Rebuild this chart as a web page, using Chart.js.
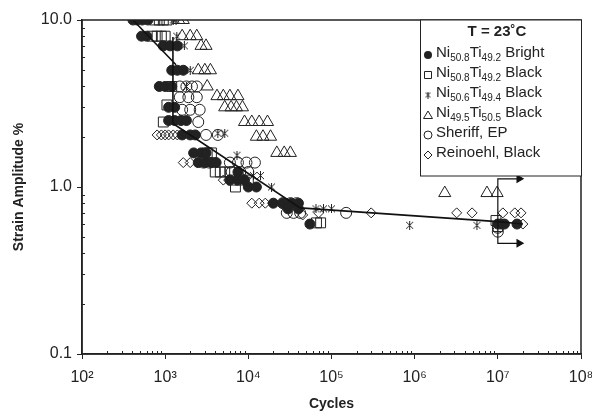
<!DOCTYPE html>
<html>
<head>
<meta charset="utf-8">
<script src="https://cdn.jsdelivr.net/npm/chart.js@4.4.1/dist/chart.umd.min.js"></script>
<style>
  html, body { margin: 0; padding: 0; background: #fff; }
</style>
</head>
<body>
<canvas id="grafico" width="592" height="417"></canvas>
<script>
// ticks
const xTicks = [1e2, 1e3, 1e4, 1e5, 1e6, 1e7, 1e8];
const yTicks = [0.1, 1, 10];
const supers = { 2: "\u00b2", 3: "\u00b3", 4: "\u2074", 5: "\u2075", 6: "\u2076", 7: "\u2077", 8: "\u2078" };

//Ni50.8Ti49.2 Bright
const brightX = [410, 460, 530, 620, 520, 600, 950, 1150, 1400, 1200, 1400, 1650, 850, 1000, 1200,
  1100, 1300, 1100, 1300, 1550, 1800, 1600, 2000, 2300, 2200, 2700, 3100, 2500, 3000, 3600, 4100,
  7500, 6000, 7500, 9000, 10000, 12500, 20000, 26000, 33000, 40000, 30000, 40000, 55000,
  10000000, 11000000, 12000000, 17000000];
const brightY = [10, 10, 10, 10, 8, 8, 7, 7, 7, 5, 5, 5, 4, 4, 4,
  3, 3, 2.5, 2.5, 2.5, 2.5, 2.05, 2.05, 2.05, 1.6, 1.6, 1.6, 1.4, 1.4, 1.4, 1.4,
  1.23, 1.1, 1.1, 1.1, 1.0, 1.0, 0.8, 0.8, 0.8, 0.8, 0.74, 0.74, 0.6,
  0.6, 0.6, 0.6, 0.6];

//Ni50.8Ti49.2 Black
const sqX = [750, 850, 950, 1050, 700, 800, 900, 1000, 1200, 1050, 950, 3200, 3600,
  4000, 4600, 5200, 6000, 6500, 8000, 10000, 7000, 66000, 74000, 9500000, 10000000];
const sqY = [10, 10, 10, 10, 8, 8, 8, 8, 4, 3.1, 2.45, 1.6, 1.6,
  1.23, 1.23, 1.23, 1.23, 1.1, 1.1, 1.1, 1.0, 0.61, 0.61, 0.63, 0.58];

//Ni50.6Ti49.4 Black
const starX = [1250, 1350, 1380, 1700, 2000, 1800, 4300, 5200, 7300, 11500, 14000, 19000,
  65000, 80000, 100000, 870000, 5600000];
const starY = [10, 10, 8, 7, 5, 4, 2.1, 2.1, 1.55, 1.17, 1.17, 1.0,
  0.74, 0.74, 0.74, 0.59, 0.59];

//Ni49.5Ti50.5 Black
const triX = [1450, 1650, 1600, 2000, 2400, 2700, 3100, 2500, 3000, 3500, 3200,
  4200, 5000, 6000, 7500, 5200, 6200, 7200, 8500, 9000, 11000, 13500, 17000,
  12500, 15000, 18500, 22000, 27000, 32000, 2300000, 7400000, 9800000];
const triY = [10, 10, 8, 8, 8, 7, 7, 5, 5, 5, 4,
  3.5, 3.5, 3.5, 3.5, 3.0, 3.0, 3.0, 3.0, 2.45, 2.45, 2.45, 2.45,
  2.0, 2.0, 2.0, 1.6, 1.6, 1.6, 0.92, 0.92, 0.92];

//Sheriff, EP
const shX = [1500, 1800, 2100, 2400, 1500, 1900, 2400, 1600, 2000, 2600, 2500, 3100, 4300,
  2900, 3400, 6000, 7500, 9500, 12000, 6300, 8000, 10000, 26000, 32000, 38000,
  29000, 35000, 42000, 150000, 10000000, 10000000];
const shY = [4, 4, 4, 4, 3.45, 3.45, 3.45, 2.9, 2.9, 2.9, 2.45, 2.05, 2.05,
  1.4, 1.4, 1.4, 1.4, 1.4, 1.4, 1.23, 1.23, 1.23, 0.8, 0.8, 0.8,
  0.7, 0.7, 0.7, 0.7, 0.54, 0.57];

//Reinoehl, Black
const reX = [800, 900, 1000, 1100, 1250, 1400, 1650, 2000, 5000, 5800, 11000, 13500, 16000, 19500,
  45000, 70000, 300000, 3200000, 4900000, 11500000, 16000000, 19000000, 20000000];
const reY = [2.05, 2.05, 2.05, 2.05, 2.05, 2.05, 1.4, 1.4, 1.1, 1.1, 0.8, 0.8, 0.8, 0.8,
  0.68, 0.7, 0.7, 0.7, 0.7, 0.7, 0.7, 0.7, 0.6];

//linea de ajuste
const fitX = [410, 1350, null, 1240, 1240, 42000, 10000000, 20000000];
const fitY = [10, 5.4, null, 7.9, 2.4, 0.75, 0.62, 0.6];

//flechas (runout)
const arrowX = [18000000, 10000000, 10000000, 18000000];
const arrowY = [1.12, 1.12, 0.46, 0.46];

const ink = "#222";
const fam = "'Liberation Sans', Arial, Helvetica, sans-serif";
Chart.defaults.font.family = fam;
Chart.defaults.color = ink;

const pts = (xs, ys) => xs.map((x, i) => ({ x: x, y: ys[i] }));

function starImg(n) {
  const c = document.createElement("canvas");
  c.width = n; c.height = n;
  const g = c.getContext("2d");
  g.strokeStyle = ink;
  g.lineWidth = 1;
  g.beginPath();
  g.moveTo(1, 1); g.lineTo(n - 1, n - 1);
  g.moveTo(n - 1, 1); g.lineTo(1, n - 1);
  g.moveTo(n / 2, 0); g.lineTo(n / 2, n);
  g.stroke();
  return c;
}
const star = starImg(9);

const legendRows = [
  ["bright", [["Ni", 0], ["50.8", 1], ["Ti", 0], ["49.2", 1], [" Bright", 0]]],
  ["square", [["Ni", 0], ["50.8", 1], ["Ti", 0], ["49.2", 1], [" Black", 0]]],
  ["star", [["Ni", 0], ["50.6", 1], ["Ti", 0], ["49.4", 1], [" Black", 0]]],
  ["tri", [["Ni", 0], ["49.5", 1], ["Ti", 0], ["50.5", 1], [" Black", 0]]],
  ["circle", [["Sheriff, EP", 0]]],
  ["diamond", [["Reinoehl, Black", 0]]],
];

function legendMarker(ctx, kind, x, y) {
  ctx.save();
  ctx.strokeStyle = ink;
  ctx.fillStyle = ink;
  ctx.lineWidth = 1;
  ctx.beginPath();
  if (kind === "bright") { ctx.arc(x, y, 4, 0, Math.PI * 2); ctx.fill(); }
  if (kind === "square") { ctx.rect(x - 3.5, y - 3.5, 7, 7); ctx.stroke(); }
  if (kind === "star") { ctx.drawImage(starImg(7), x - 3.5, y - 3.5); }
  if (kind === "tri") { ctx.moveTo(x, y - 4); ctx.lineTo(x + 4.5, y + 3.5); ctx.lineTo(x - 4.5, y + 3.5); ctx.closePath(); ctx.stroke(); }
  if (kind === "circle") { ctx.arc(x, y, 4, 0, Math.PI * 2); ctx.stroke(); }
  if (kind === "diamond") { ctx.moveTo(x, y - 4); ctx.lineTo(x + 4, y); ctx.lineTo(x, y + 4); ctx.lineTo(x - 4, y); ctx.closePath(); ctx.stroke(); }
  ctx.restore();
}

const decor = {
  id: "decor",
  afterDraw(chart) {
    const ctx = chart.ctx;
    const a = chart.chartArea;
    const sx = chart.scales.x, sy = chart.scales.y;
    ctx.save();
    // marco
    ctx.strokeStyle = ink;
    ctx.lineWidth = 1.5;
    ctx.strokeRect(a.left, a.top, a.right - a.left, a.bottom - a.top);
    // minor ticks
    ctx.lineWidth = 1;
    ctx.beginPath();
    for (let d = 2; d < 8; d++) {
      for (let m = 2; m < 10; m++) {
        const px = Math.round(sx.getPixelForValue(m * Math.pow(10, d))) + 0.5;
        ctx.moveTo(px, a.bottom); ctx.lineTo(px, a.bottom - 3);
      }
    }
    for (let d = -1; d < 1; d++) {
      for (let m = 2; m < 10; m++) {
        const py = Math.round(sy.getPixelForValue(m * Math.pow(10, d))) + 0.5;
        ctx.moveTo(a.left, py); ctx.lineTo(a.left + 3, py);
      }
    }
    ctx.stroke();
    // leyenda
    const lx = 420, ly = a.top, lw = a.right - 420, lh = 156;
    ctx.fillStyle = "#fff";
    ctx.fillRect(lx, ly, lw, lh);
    ctx.lineWidth = 1;
    ctx.strokeRect(lx + 0.5, ly, lw, lh);
    ctx.fillStyle = ink;
    ctx.textBaseline = "middle";
    ctx.textAlign = "center";
    ctx.font = "bold 15px " + fam;
    ctx.fillText("T = 23\u02daC", 497, ly + 12);
    ctx.textAlign = "left";
    legendRows.forEach((row, i) => {
      const y = ly + 33 + i * 20;
      legendMarker(ctx, row[0], 428, y + 2);
      let x = 436;
      row[1].forEach(p => {
        ctx.font = (p[1] ? "10px " : "15px ") + fam;
        ctx.fillText(p[0], x, p[1] ? y + 5 : y);
        x += ctx.measureText(p[0]).width;
      });
    });
    ctx.restore();
  }
};

const mk = (label, data, style, r, fill) => ({
  label: label,
  data: data,
  pointStyle: style,
  pointRadius: r,
  pointHoverRadius: r,
  borderColor: ink,
  backgroundColor: fill ? ink : "rgba(0,0,0,0)",
  pointBorderWidth: 1,
  showLine: false,
});

new Chart(document.getElementById("grafico"), {
  type: "scatter",
  data: {
    datasets: [
      {
        label: "fit",
        data: pts(fitX, fitY),
        showLine: true,
        spanGaps: false,
        borderColor: "#111",
        borderWidth: 1.6,
        pointRadius: 0,
        order: 0,
      },
      {
        label: "runout",
        data: pts(arrowX, arrowY),
        showLine: true,
        borderColor: "#111",
        backgroundColor: "#111",
        borderWidth: 1.2,
        pointStyle: "triangle",
        rotation: 90,
        pointRadius: [4, 0, 0, 4],
        order: 0,
      },
      mk("Reinoehl, Black", pts(reX, reY), "rectRot", 5, false),
      mk("Sheriff, EP", pts(shX, shY), "circle", 5.5, false),
      mk("Ni49.5Ti50.5 Black", pts(triX, triY), "triangle", 7, false),
      mk("Ni50.6Ti49.4 Black", pts(starX, starY), star, 5, false),
      mk("Ni50.8Ti49.2 Black", pts(sqX, sqY), "rect", 7, false),
      mk("Ni50.8Ti49.2 Bright", pts(brightX, brightY), "circle", 5, true),
    ],
  },
  options: {
    responsive: false,
    animation: false,
    layout: { padding: { top: 20, right: 11, left: 0, bottom: 0 } },
    plugins: {
      legend: { display: false },
      tooltip: { enabled: false },
    },
    scales: {
      x: {
        type: "logarithmic",
        min: 1e2,
        max: 1e8,
        afterBuildTicks: (s) => { s.ticks = xTicks.map(v => ({ value: v })); },
        afterFit: (s) => { s.height = 63; s.paddingLeft = 0; s.paddingRight = 0; },
        ticks: {
          autoSkip: false,
          maxRotation: 0,
          padding: 9,
          color: ink,
          font: { size: 16 },
          callback: (v) => "10" + supers[Math.round(Math.log10(v))],
        },
        grid: { drawOnChartArea: false, tickLength: 5, tickColor: ink },
        border: { color: ink, width: 1.5 },
        title: { display: true, text: "Cycles", color: ink, font: { size: 14, weight: "bold" }, padding: { top: 7 } },
      },
      y: {
        type: "logarithmic",
        min: 0.1,
        max: 10,
        afterBuildTicks: (s) => { s.ticks = yTicks.map(v => ({ value: v })); },
        afterFit: (s) => { s.width = 82; s.paddingTop = 0; s.paddingBottom = 0; },
        ticks: {
          autoSkip: false,
          padding: 5,
          color: ink,
          font: { size: 16 },
          callback: (v) => Number(v).toFixed(1),
        },
        grid: { drawOnChartArea: false, tickLength: 5, tickColor: ink },
        border: { color: ink, width: 1.5 },
        title: { display: true, text: "Strain Amplitude %", color: ink, font: { size: 14, weight: "bold" }, padding: { top: 11 } },
      },
    },
  },
  plugins: [decor],
});
</script>
</body>
</html>
